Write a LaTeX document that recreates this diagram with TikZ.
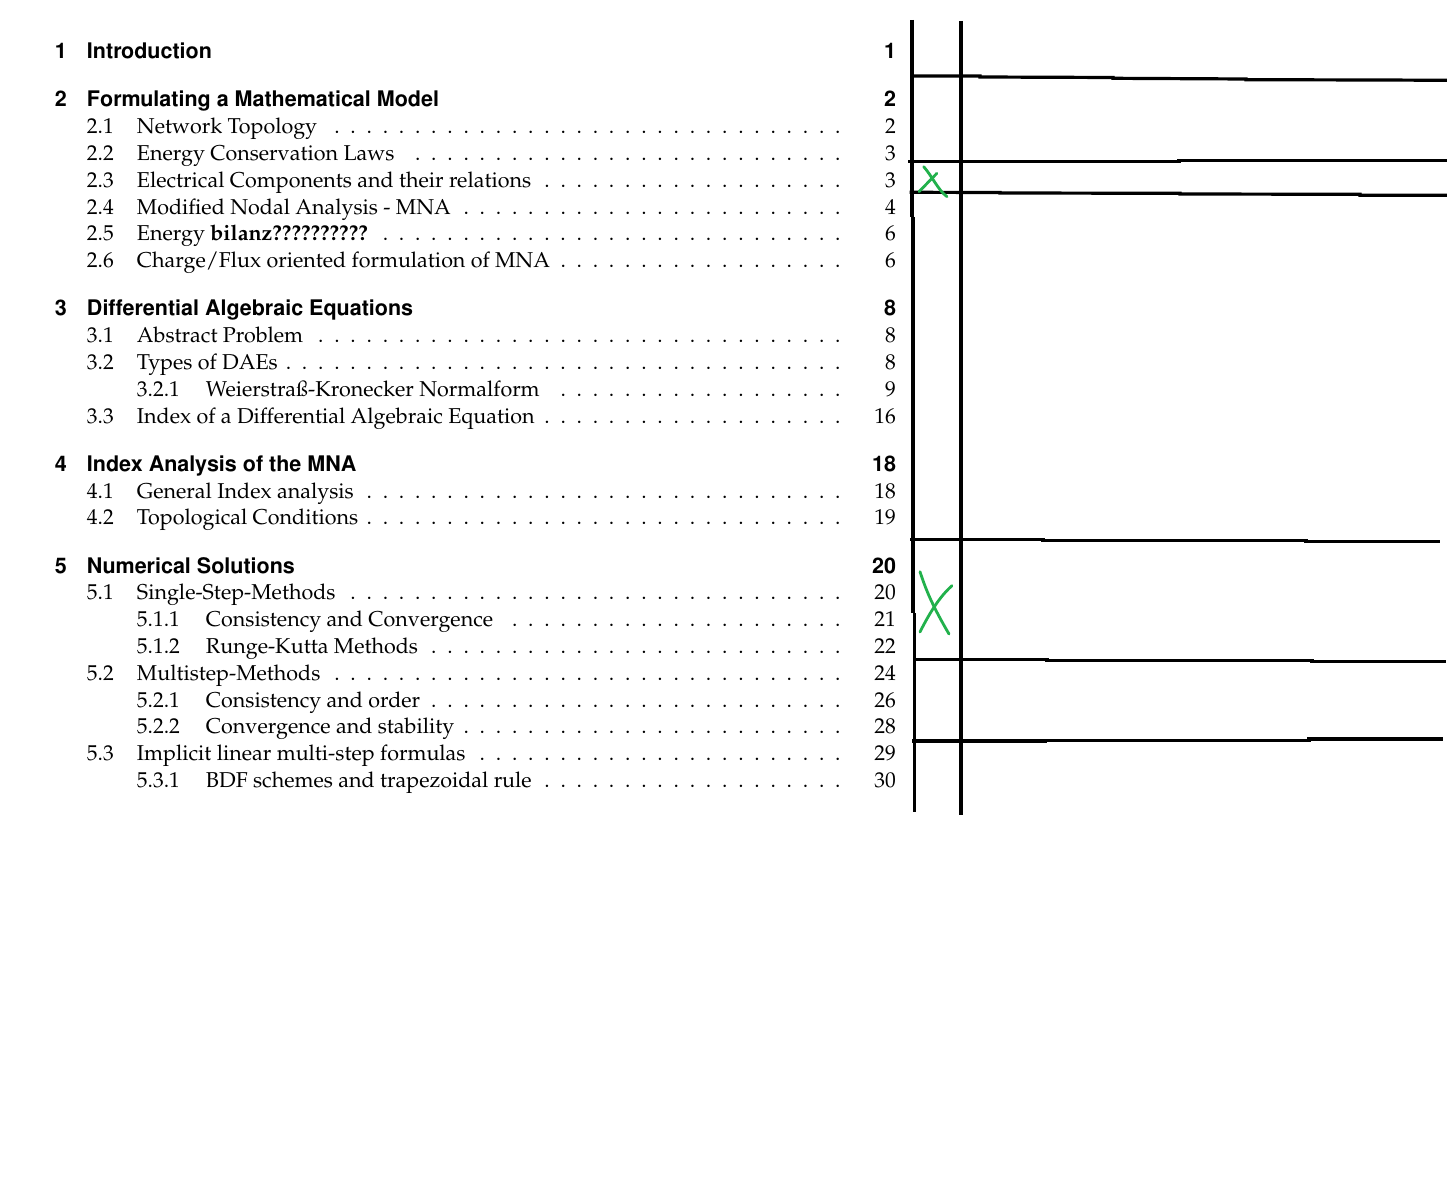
\documentclass[tikz,border=0pt]{standalone}
\usepackage[T1]{fontenc}
\usepackage{mathpazo}
\usepackage{helvet}
\usetikzlibrary{calc}

\definecolor{markgreen}{RGB}{34,177,76}

% aligned leader dots, one every 8.08pt
\newcommand{\tocdots}{\hskip0.5pt\leaders\hbox to 8.08pt{\hss.\hss}\hfill}
\newcommand{\chapentry}[3]{\hbox to 429pt{\hskip8.5pt\makebox[16pt][l]{#1}#2\hfill #3}}
\newcommand{\secentry}[3]{\hbox to 429pt{\hskip24.5pt\makebox[25pt][l]{#1}#2\tocdots\hbox to 25pt{\hfill #3}}}
\newcommand{\subsecentry}[3]{\hbox to 429pt{\hskip49.5pt\makebox[34.5pt][l]{#1}#2\tocdots\hbox to 25pt{\hfill #3}}}

\tikzset{
    toc_row/.style={
        anchor=base west,
        inner sep=0pt,
        outer sep=0pt
    },
    toc_chapter/.style={
        toc_row,
        font=\fontsize{10.75}{13}\selectfont\sffamily\bfseries
    },
    toc_section/.style={
        toc_row,
        font=\fontsize{10.75}{13}\selectfont\rmfamily
    },
    pen/.style={
        draw=black,
        line width=1.6pt
    },
    tick/.style={
        draw=markgreen,
        line width=1.4pt,
        line cap=round
    },
}

\begin{document}
\begin{tikzpicture}[x=0.5pt, y=-0.5pt]
    \path[fill=white] (0,0) rectangle (1447,1182);
    \useasboundingbox (0,0) rectangle (1447,1182);

    % contents
    \node[toc_chapter] (ch1) at (38,58.7) {\chapentry{1}{Introduction}{1}};
    \node[toc_chapter] (ch2) at (38,106.9) {\chapentry{2}{Formulating a Mathematical Model}{2}};
    \node[toc_section] (s21) at (38,133.7) {\secentry{2.1}{Network Topology}{2}};
    \node[toc_section] (s22) at (38,160.5) {\secentry{2.2}{Energy Conservation Laws}{3}};
    \node[toc_section] (s23) at (38,187.3) {\secentry{2.3}{Electrical Components and their relations}{3}};
    \node[toc_section] (s24) at (38,214.1) {\secentry{2.4}{Modified Nodal Analysis - MNA}{4}};
    \node[toc_section] (s25) at (38,240.9) {\secentry{2.5}{Energy \textbf{bilanz??????????}}{6}};
    \node[toc_section] (s26) at (38,267.7) {\secentry{2.6}{Charge/Flux oriented formulation of MNA}{6}};
    \node[toc_chapter] (ch3) at (38,315.9) {\chapentry{3}{Differential Algebraic Equations}{8}};
    \node[toc_section] (s31) at (38,342.7) {\secentry{3.1}{Abstract Problem}{8}};
    \node[toc_section] (s32) at (38,369.5) {\secentry{3.2}{Types of DAEs}{8}};
    \node[toc_section] (s321) at (38,396.3) {\subsecentry{3.2.1}{Weierstra\ss-Kronecker Normalform}{9}};
    \node[toc_section] (s33) at (38,423.1) {\secentry{3.3}{Index of a Differential Algebraic Equation}{16}};
    \node[toc_chapter] (ch4) at (38,471.3) {\chapentry{4}{Index Analysis of the MNA}{18}};
    \node[toc_section] (s41) at (38,498.1) {\secentry{4.1}{General Index analysis}{18}};
    \node[toc_section] (s42) at (38,524.9) {\secentry{4.2}{Topological Conditions}{19}};
    \node[toc_chapter] (ch5) at (38,573.1) {\chapentry{5}{Numerical Solutions}{20}};
    \node[toc_section] (s51) at (38,599.9) {\secentry{5.1}{Single-Step-Methods}{20}};
    \node[toc_section] (s511) at (38,626.7) {\subsecentry{5.1.1}{Consistency and Convergence}{21}};
    \node[toc_section] (s512) at (38,653.5) {\subsecentry{5.1.2}{Runge-Kutta Methods}{22}};
    \node[toc_section] (s52) at (38,680.3) {\secentry{5.2}{Multistep-Methods}{24}};
    \node[toc_section] (s521) at (38,707.1) {\subsecentry{5.2.1}{Consistency and order}{26}};
    \node[toc_section] (s522) at (38,733.9) {\subsecentry{5.2.2}{Convergence and stability}{28}};
    \node[toc_section] (s53) at (38,760.7) {\secentry{5.3}{Implicit linear multi-step formulas}{29}};
    \node[toc_section] (s531) at (38,787.5) {\subsecentry{5.3.1}{BDF schemes and trapezoidal rule}{30}};

    % hand drawn columns
    \draw[pen] (912,20) -- (912,217);
    \draw[pen] (913,217) -- (913,613);
    \draw[pen] (914.5,613) -- (914.5,812);
    \draw[pen] (961,21) -- (961,815);

    % hand drawn rows
    \draw[pen] (913,76) -- (980,76) -- (980,77) -- (1113,77.5) -- (1113,78.3) -- (1246,79) -- (1246,79.7) -- (1379,80) -- (1447,80.3);
    \draw[pen] (908,161.7) -- (1179,161.7) -- (1179,160.7) -- (1447,160.7);
    \draw[pen] (909.5,192.3) -- (1000,192.5) -- (1000,193) -- (1180,193.3) -- (1180,194) -- (1360,194.3) -- (1360,195.3) -- (1447,195.3);
    \draw[pen] (910,539.3) -- (1043,539.3) -- (1043,540.7) -- (1306,540.7) -- (1306,541.3) -- (1440,541.3);
    \draw[pen] (915,659.3) -- (1047,659.3) -- (1047,660.7) -- (1312,660.7) -- (1312,661.7) -- (1446,661.7);
    \draw[pen] (912,741) -- (1045,741) -- (1045,740.3) -- (1309,740.3) -- (1309,739) -- (1443,739);

    % green crosses
    \draw[tick] (923.7,166.7) .. controls (932,176) and (938,190) .. (947,196.7);
    \draw[tick] (919,191.7) -- (936.9,173.3);
    \draw[tick] (920,571.7) .. controls (926,590) and (932,605) .. (949,634);
    \draw[tick] (951.9,585.7) .. controls (944,593) and (934,604) .. (920,632);
\end{tikzpicture}
\end{document}
